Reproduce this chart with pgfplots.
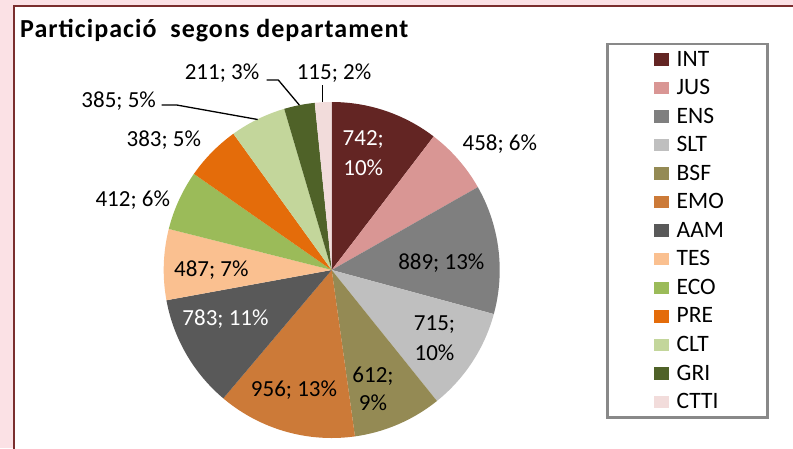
\documentclass[border=0pt]{standalone}
\usepackage{fontspec}
\setmainfont{Carlito}
\usepackage{pgfplots}
\pgfplotsset{compat=1.18}

\definecolor{cINT}{HTML}{632523}
\definecolor{cJUS}{HTML}{D99694}
\definecolor{cENS}{HTML}{7F7F7F}
\definecolor{cSLT}{HTML}{BFBFBF}
\definecolor{cBSF}{HTML}{948A54}
\definecolor{cEMO}{HTML}{CC7A38}
\definecolor{cAAM}{HTML}{595959}
\definecolor{cTES}{HTML}{FAC090}
\definecolor{cECO}{HTML}{9BBB59}
\definecolor{cPRE}{HTML}{E46C0A}
\definecolor{cCLT}{HTML}{C3D69B}
\definecolor{cGRI}{HTML}{4F6228}
\definecolor{cCTTI}{HTML}{F2DCDB}
\definecolor{bgpink}{HTML}{FBE1E5}
\definecolor{framered}{HTML}{7A2E2E}
\definecolor{legframe}{HTML}{898989}

% data: department / participants
\def\piedata{INT/742,JUS/458,ENS/889,SLT/715,BSF/612,EMO/956,AAM/783,TES/487,ECO/412,PRE/383,CLT/385,GRI/211,CTTI/115}

\newcount\tot \tot=0
\foreach \n/\v in \piedata {\global\advance\tot by \v\relax}
\edef\total{\the\tot}

\def\cx{331.7}\def\cy{270}\def\rr{168}
\newcount\cum \cum=0
\newcommand\mkslice[2]{%
  \edef\startv{\the\cum}%
  \global\advance\cum by #2\relax
  \edef\endv{\the\cum}%
  \pgfmathsetmacro\sa{\startv/\total*360}%
  \pgfmathsetmacro\se{\endv/\total*360}%
  \xdef\tmp{(\cx,\cy)}%
  \foreach \i in {0,...,48}{%
    \pgfmathsetmacro\ang{\sa+(\se-\sa)*\i/48}%
    \pgfmathsetmacro\px{\cx+\rr*sin(\ang)}%
    \pgfmathsetmacro\py{\cy-\rr*cos(\ang)}%
    \xdef\tmp{\tmp (\px,\py)}%
  }%
  \expandafter\xdef\csname slice#1\endcsname{\tmp (\cx,\cy)}%
}
\foreach \n/\v in \piedata {\mkslice{\n}{\v}}

\newcommand\drawslice[1]{\edef\temp{\noexpand\addplot[fill=c#1, draw=none] coordinates {\csname slice#1\endcsname};\noexpand\addlegendentry{#1}}\temp}

\tikzset{lbl/.style={anchor=base, inner sep=0pt, font=\fontsize{23}{28}\selectfont}}

\begin{document}
\begin{tikzpicture}
\useasboundingbox (0,0) rectangle (793pt,448pt);
\fill[bgpink] (0,0) rectangle (793pt,448pt);
\fill[white] (14pt,-5pt) rectangle (800pt,442pt);
\draw[framered, line width=2pt] (14pt,-5pt) |- (800pt,442pt);
\begin{axis}[
  at={(0,0)}, anchor=south west,
  scale only axis, width=793pt, height=448pt,
  xmin=0, xmax=793, ymin=0, ymax=448,
  y dir=reverse, hide axis, clip=false,
  legend image code/.code={\fill[#1] (0pt,-6.25pt) rectangle (15pt,6.25pt);},
  legend style={at={(axis cs:654,49.2)}, anchor=north west, draw=none, fill=none,
    inner sep=0pt, outer sep=0pt, row sep=8.25pt, column sep=5.7pt,
    font=\fontsize{23.5}{28}\selectfont,
    cells={anchor=west, inner sep=0pt, text height=14.8pt, text depth=0pt}},
]
\draw[legframe, line width=2.5pt] (axis cs:607.5,44) rectangle (axis cs:767.7,417.7);
\drawslice{INT}
\drawslice{JUS}
\drawslice{ENS}
\drawslice{SLT}
\drawslice{BSF}
\drawslice{EMO}
\drawslice{AAM}
\drawslice{TES}
\drawslice{ECO}
\drawslice{PRE}
\drawslice{CLT}
\drawslice{GRI}
\drawslice{CTTI}
% leader lines
\draw[black, line width=1.3pt] (axis cs:161.7,105) -- (axis cs:176.7,105) -- (axis cs:257.7,119.5);
\draw[black, line width=1.3pt] (axis cs:266.7,80) -- (axis cs:278.3,80) -- (axis cs:299.3,105);
\draw[black, line width=1.3pt] (axis cs:322.3,85) -- (axis cs:322.3,102);
% labels
\node[lbl, white] at (axis cs:363.3,145) {742;};
\node[lbl, white] at (axis cs:363.3,175) {10\%};
\node[lbl] at (axis cs:499.8,150) {458; 6\%};
\node[lbl] at (axis cs:441.3,269) {889; 13\%};
\node[lbl] at (axis cs:434.5,330.7) {715;};
\node[lbl] at (axis cs:434.5,360.7) {10\%};
\node[lbl] at (axis cs:373,382.3) {612;};
\node[lbl] at (axis cs:373,410.7) {9\%};
\node[lbl] at (axis cs:294,396.7) {956; 13\%};
\node[lbl, white] at (axis cs:225.5,325) {783; 11\%};
\node[lbl] at (axis cs:211.3,276) {487; 7\%};
\node[lbl] at (axis cs:132.8,206) {412; 6\%};
\node[lbl] at (axis cs:163.8,146) {383; 5\%};
\node[lbl] at (axis cs:118.7,107.3) {385; 5\%};
\node[lbl] at (axis cs:222,79.3) {211; 3\%};
\node[lbl] at (axis cs:334,79.3) {115; 2\%};
\node[anchor=base west, inner sep=0pt, font=\bfseries\fontsize{26}{30}\selectfont\addfontfeatures{LetterSpace=4}] at (axis cs:20,37.5) {Participació\ \ segons departament};
\end{axis}
\end{tikzpicture}
\end{document}
